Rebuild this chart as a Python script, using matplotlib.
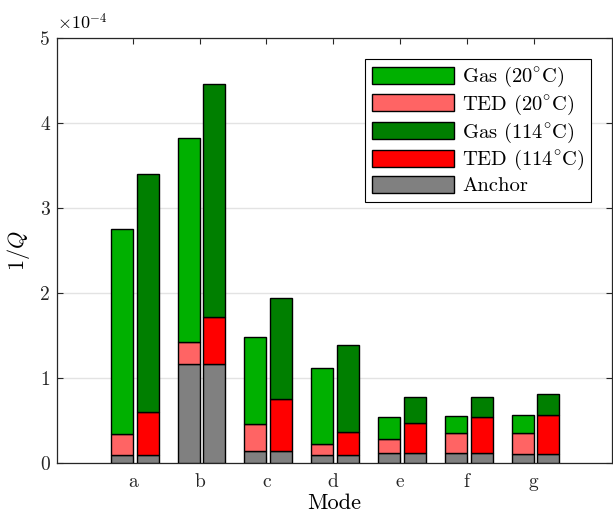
import numpy as np
import matplotlib
matplotlib.use('Agg')
from matplotlib import pyplot as plt
from matplotlib.patches import Patch

plt.rcParams['font.family'] = 'serif'
plt.rcParams['font.serif'] = ['cmr10']
plt.rcParams['mathtext.fontset'] = 'cm'
plt.rcParams['axes.unicode_minus'] = False

# values, in units of 1e-4 (cumulative tops of each stack)
modes = ['a', 'b', 'c', 'd', 'e', 'f', 'g']
anchor = [0.099, 1.161, 0.136, 0.090, 0.118, 0.120, 0.106]
ted_top_20 = [0.337, 1.428, 0.455, 0.228, 0.279, 0.353, 0.349]
gas_top_20 = [2.753, 3.820, 1.482, 1.114, 0.538, 0.558, 0.565]
ted_top_114 = [0.605, 1.718, 0.753, 0.369, 0.475, 0.546, 0.565]
gas_top_114 = [3.393, 4.459, 1.938, 1.385, 0.773, 0.776, 0.808]

anchor = np.array(anchor)
ted20 = np.array(ted_top_20) - anchor
gas20 = np.array(gas_top_20) - np.array(ted_top_20)
ted114 = np.array(ted_top_114) - anchor
gas114 = np.array(gas_top_114) - np.array(ted_top_114)

c_gas20 = '#00b000'
c_ted20 = '#ff6464'
c_gas114 = '#007f00'
c_ted114 = '#ff0000'
c_anchor = '#808080'

fig = plt.figure(figsize=(6.13, 5.14), dpi=100)
ax = fig.add_axes([0.093, 0.0992, 0.905, 0.8275])

x = np.arange(1, len(modes) + 1)
w = 0.33
x20 = x - 0.165
x114 = x + 0.222
kw = dict(width=w, edgecolor='black', linewidth=1.0, zorder=3)

ax.bar(x20, anchor, color=c_anchor, **kw)
ax.bar(x20, ted20, bottom=anchor, color=c_ted20, **kw)
ax.bar(x20, gas20, bottom=anchor + ted20, color=c_gas20, **kw)
ax.bar(x114, anchor, color=c_anchor, **kw)
ax.bar(x114, ted114, bottom=anchor, color=c_ted114, **kw)
ax.bar(x114, gas114, bottom=anchor + ted114, color=c_gas114, **kw)

ax.set_xlim(-0.135, 8.17)
ax.set_ylim(0, 5)
ax.set_xticks(x)
ax.set_xticklabels(modes)
ax.set_yticks([0, 1, 2, 3, 4, 5])
ax.set_yticklabels(['0', '1', '2', '3', '4', '5'])
ax.tick_params(direction='in', length=4, width=0.8, labelsize=14,
               top=True, right=True, colors='#262626')
ax.tick_params(axis='x', pad=7)
ax.tick_params(axis='y', pad=5)
ax.yaxis.grid(True, color='#e3e3e3', linewidth=1.0, zorder=0)
ax.set_axisbelow(True)
for s in ax.spines.values():
    s.set_color('#262626')
    s.set_linewidth(0.9)

ax.set_xlabel('Mode', fontsize=16, labelpad=2)
ax.set_ylabel(r'$1/Q$', fontsize=16, labelpad=6)
ax.text(0.0, 1.012, r'$\times 10^{-4}$', transform=ax.transAxes,
        fontsize=13, ha='left', va='bottom')

handles = [Patch(facecolor=c, edgecolor='black', linewidth=1.0)
           for c in [c_gas20, c_ted20, c_gas114, c_ted114, c_anchor]]
labels = [r'Gas $\mathrm{(20^{\circ}C)}$', r'TED $\mathrm{(20^{\circ}C)}$',
          r'Gas $\mathrm{(114^{\circ}C)}$', r'TED $\mathrm{(114^{\circ}C)}$', 'Anchor']
leg = ax.legend(handles, labels, loc='upper right', bbox_to_anchor=(0.962, 0.950),
                borderaxespad=0, fontsize=14.8, handlelength=4.0, handleheight=0.9,
                labelspacing=0.17, handletextpad=0.4, borderpad=0.3,
                fancybox=False, framealpha=1, edgecolor='black')
leg.get_frame().set_linewidth(0.8)

fig.savefig('out.png', dpi=100)
